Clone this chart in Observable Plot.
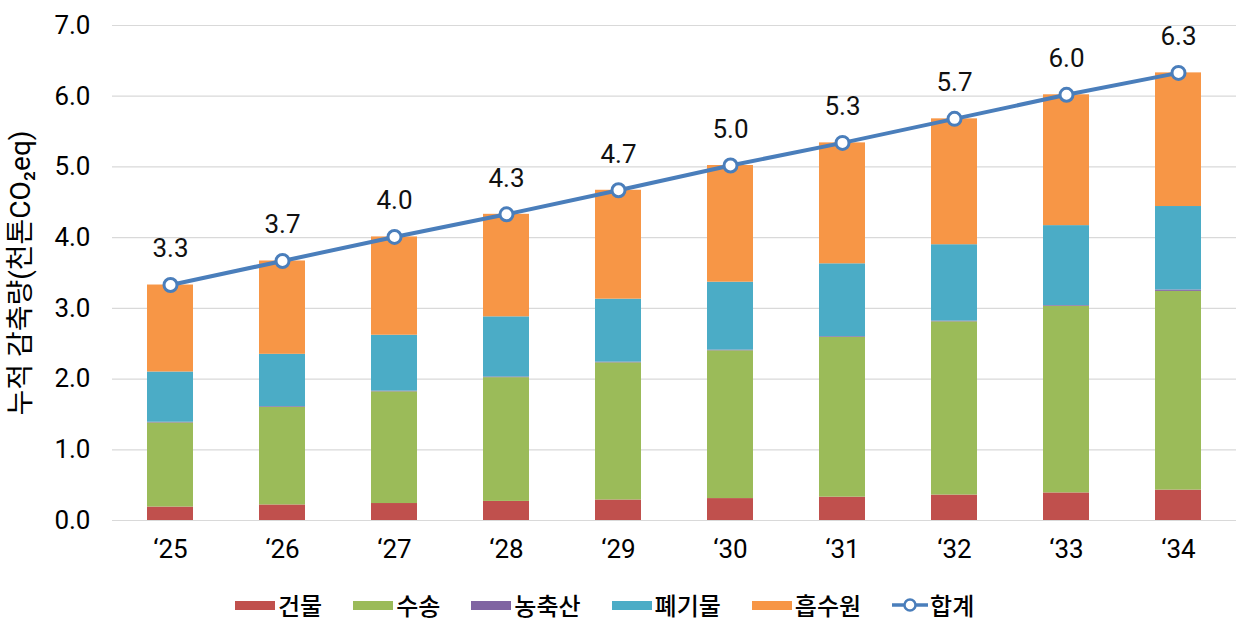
<!DOCTYPE html>
<html><head><meta charset="utf-8">
<script src="https://cdn.jsdelivr.net/npm/d3@7"></script>
<script src="https://cdn.jsdelivr.net/npm/@observablehq/plot@0.6"></script>
<style>
body{margin:0;background:#fff;font-family:Roboto,"Noto Sans CJK KR",sans-serif;}
#wrap{position:relative;width:1238px;height:623px;}
#legend{position:absolute;left:235px;top:592px;height:26px;display:flex;align-items:center;font-family:"Noto Sans CJK KR",sans-serif;font-size:24px;font-weight:500;color:#000;line-height:24px;}
.item{display:flex;align-items:center;margin-right:31px;}
.sw{width:40px;height:9px;margin-right:3px;}
</style></head>
<body><div id="wrap"><div id="chart"></div><div id="legend"></div></div>
<script>
const years = ["‘25","‘26","‘27","‘28","‘29","‘30","‘31","‘32","‘33","‘34"];
const seriesNames = ["건물","수송","농축산","폐기물","흡수원"];
const seriesColors = ["#C0504D","#9BBB59","#8064A2","#4BACC6","#F79646"];
const building = [0.19,0.22,0.24,0.27,0.29,0.31,0.33,0.36,0.39,0.43];
const transport = [1.19,1.38,1.58,1.75,1.94,2.09,2.26,2.45,2.64,2.81];
const agriculture = [0.01,0.01,0.01,0.01,0.01,0.01,0.01,0.01,0.01,0.02];
const waste = [0.71,0.74,0.79,0.85,0.89,0.96,1.03,1.08,1.13,1.18];
const sink = [1.23,1.32,1.39,1.45,1.54,1.65,1.71,1.78,1.85,1.89];
const totalName = "합계";
const lineColor = "#4A7EBB";
const yTicks = [0,1,2,3,4,5,6,7];

const seriesValues = [building, transport, agriculture, waste, sink];
const rows = [];
years.forEach((y, i) => seriesNames.forEach((s, k) => rows.push({year: y, series: s, value: seriesValues[k][i]})));
const totals = years.map((y, i) => ({year: y, total: d3.sum(seriesValues, a => a[i])}));

const chart = Plot.plot({
  width: 1238, height: 580,
  marginLeft: 112, marginRight: 2, marginTop: 25, marginBottom: 60,
  style: {fontFamily: 'Roboto,"Noto Sans CJK KR",sans-serif', fontSize: "26px", color: "#000"},
  x: {domain: years, paddingInner: 0.59, paddingOuter: 0.295, label: null},
  y: {domain: [0, 7], label: null},
  color: {domain: seriesNames, range: seriesColors},
  marks: [
    Plot.gridY(yTicks, {stroke: "#d9d9d9", strokeOpacity: 1, strokeWidth: 1.2}),
    Plot.axisY(yTicks, {tickSize: 0, tickPadding: 22, tickFormat: d3.format(".1f"), fontSize: 26,
      label: "누적 감축량(천톤CO₂eq)", labelAnchor: "center", labelArrow: "none", labelOffset: 102}),
    Plot.axisX({tickSize: 0, tickPadding: 19, fontSize: 26, label: null}),
    Plot.barY(rows, {x: "year", y: "value", fill: "series", order: seriesNames}),
    Plot.line(totals, {x: "year", y: "total", stroke: lineColor, strokeWidth: 4}),
    Plot.dot(totals, {x: "year", y: "total", r: 6.5, fill: "white", stroke: lineColor, strokeWidth: 3}),
    Plot.text(totals, {x: "year", y: "total", text: d => d3.format(".1f")(d.total), dy: -36, fontSize: 26, fill: "#111"})
  ]
});
document.getElementById("chart").appendChild(chart);
chart.querySelectorAll("[aria-label='y-axis label'] text, [aria-label='y-axis label']").forEach(e => e.setAttribute("font-size", "28"));

const leg = document.getElementById("legend");
seriesNames.forEach((s, k) => {
  const it = document.createElement("div"); it.className = "item";
  it.innerHTML = `<span class="sw" style="background:${seriesColors[k]}"></span><span>${s}</span>`;
  leg.appendChild(it);
});
const li = document.createElement("div"); li.className = "item";
li.innerHTML = `<svg width="36" height="16" style="margin-right:2px"><line x1="0" y1="8" x2="36" y2="8" stroke="${lineColor}" stroke-width="3.5"/><circle cx="18" cy="8" r="5.5" fill="white" stroke="${lineColor}" stroke-width="2.5"/></svg><span>${totalName}</span>`;
leg.appendChild(li);
</script></body></html>
